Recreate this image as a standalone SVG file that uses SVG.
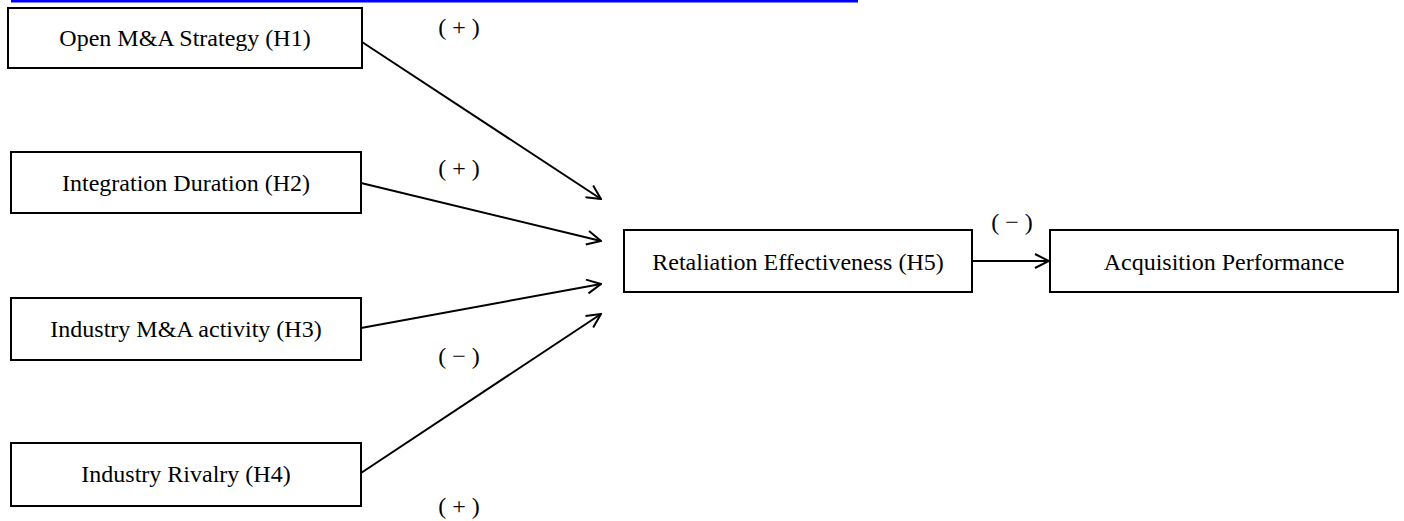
<svg xmlns="http://www.w3.org/2000/svg" width="1404" height="521" viewBox="0 0 1404 521">
<defs>
<marker id="arr" viewBox="0 0 16 16" refX="15" refY="8" markerWidth="16" markerHeight="16" markerUnits="userSpaceOnUse" orient="auto">
<path d="M1,1 L15,8 L1,15" fill="none" stroke="#000" stroke-width="2"/>
</marker>
<style>
.box{fill:#fff;stroke:#000;stroke-width:2}
.t{font-family:"Liberation Serif","Times New Roman",serif;font-size:24px;fill:#000;text-anchor:middle;dominant-baseline:central}
.lbl{font-family:"Liberation Serif","Times New Roman",serif;font-size:24px;fill:#000;text-anchor:middle;dominant-baseline:central}
.c{stroke:#000;stroke-width:2;fill:none;marker-end:url(#arr)}
</style>
</defs>
<rect x="11" y="0" width="847" height="2.5" fill="#0000ff"/>
<g id="connectors">
<line class="c" x1="362" y1="42" x2="601" y2="199"/>
<line class="c" x1="361" y1="183" x2="601" y2="241"/>
<line class="c" x1="361" y1="328" x2="601" y2="284"/>
<line class="c" x1="361" y1="473" x2="601" y2="314"/>
<line class="c" x1="973" y1="261" x2="1049" y2="261"/>
</g>
<g id="labels">
<text class="lbl" x="459" y="27">( + )</text>
<text class="lbl" x="459" y="168">( + )</text>
<text class="lbl" x="459" y="356">( − )</text>
<text class="lbl" x="459" y="506">( + )</text>
<text class="lbl" x="1012" y="222">( − )</text>
</g>
<g id="h1"><rect class="box" x="8" y="8" width="354" height="60"/><text class="t" x="185" y="38">Open M&amp;A Strategy (H1)</text></g>
<g id="h2"><rect class="box" x="11" y="152" width="350" height="61"/><text class="t" x="186" y="183">Integration Duration (H2)</text></g>
<g id="h3"><rect class="box" x="11" y="298" width="350" height="62"/><text class="t" x="186" y="329">Industry M&amp;A activity (H3)</text></g>
<g id="h4"><rect class="box" x="11" y="443" width="350" height="63"/><text class="t" x="186" y="474">Industry Rivalry (H4)</text></g>
<g id="h5"><rect class="box" x="624" y="230" width="348" height="62"/><text class="t" x="798" y="262">Retaliation Effectiveness (H5)</text></g>
<g id="perf"><rect class="box" x="1050" y="230" width="348" height="62"/><text class="t" x="1224" y="262">Acquisition Performance</text></g>
</svg>
